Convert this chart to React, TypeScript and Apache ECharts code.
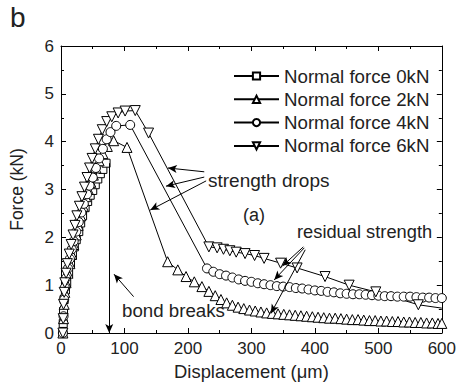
import React, { useEffect, useRef } from "react";
import * as echarts from "echarts";

const seriesNames = ["Normal force 0kN", "Normal force 2kN", "Normal force 4kN", "Normal force 6kN"];

const force0kN: any[] = [
  [3, 0], [3.5, 0.2], [4, 0.45], [5, 0.7], [7, 0.9], [9, 1.05], [12, 1.25], [15, 1.45], [18, 1.62],
  [21, 1.8], [24, 1.95], [28, 2.12], [31, 2.3], [34, 2.45], [38, 2.62], [42, 2.75], [46, 2.88],
  [50, 2.98], [54, 3.1], [58, 3.22], [62, 3.33], [66, 3.42], [71, 3.55],
  { value: [76, 3.55], symbol: "none" },
];

const force2kN: number[][] = [
  [3, 0], [4, 0.3], [5, 0.6], [6, 0.85], [8, 1.05], [11, 1.25], [14, 1.45], [17, 1.65], [20, 1.85],
  [24, 2.05], [27, 2.25], [31, 2.45], [35, 2.65], [39, 2.85], [43, 3.0], [47, 3.15], [51, 3.3],
  [55, 3.45], [60, 3.6], [66, 3.75], [73, 3.9], [83, 4.02], [104, 3.88],
  [168, 1.49], [184, 1.32], [197, 1.18], [210, 1.07], [222, 0.97], [233, 0.87], [243, 0.78],
  [252, 0.7], [261, 0.63], [270, 0.58], [279, 0.54], [288, 0.51], [297, 0.48], [306, 0.46],
  [315, 0.44], [324, 0.42], [333, 0.41], [342, 0.4], [351, 0.39], [360, 0.38], [369, 0.37],
  [378, 0.36], [387, 0.35], [396, 0.34], [405, 0.33], [414, 0.32], [423, 0.31], [432, 0.31],
  [441, 0.3], [450, 0.29], [459, 0.28], [468, 0.28], [477, 0.27], [486, 0.26], [495, 0.26],
  [504, 0.25], [513, 0.25], [522, 0.24], [531, 0.24], [540, 0.23], [549, 0.23], [558, 0.22],
  [567, 0.22], [576, 0.21], [585, 0.21], [594, 0.2], [600, 0.2],
];

const force4kN: number[][] = [
  [3, 0], [4, 0.35], [5, 0.7], [6, 0.95], [8, 1.15], [11, 1.35], [14, 1.55], [17, 1.75], [20, 1.92],
  [24, 2.12], [28, 2.32], [32, 2.52], [36, 2.7], [41, 2.9], [45, 3.08], [50, 3.25], [55, 3.45],
  [60, 3.65], [66, 3.85], [72, 4.05], [78, 4.2], [87, 4.33], [109, 4.35],
  [230, 1.35], [240, 1.28], [250, 1.23], [260, 1.2], [270, 1.16], [280, 1.12], [290, 1.09],
  [300, 1.07], [310, 1.04], [320, 1.02], [330, 1.0], [340, 0.98], [350, 0.97], [360, 0.96],
  [370, 0.94], [380, 0.93], [390, 0.91], [400, 0.89], [410, 0.88], [420, 0.86], [430, 0.85],
  [440, 0.83], [450, 0.82], [460, 0.81], [470, 0.81], [480, 0.8], [490, 0.79], [500, 0.78],
  [510, 0.77], [520, 0.77], [530, 0.76], [540, 0.76], [550, 0.76], [560, 0.75], [570, 0.74],
  [580, 0.74], [590, 0.73], [600, 0.73],
];

const force6kN: any[] = [
  [3, 0], [3.5, 0.3], [4, 0.6], [5, 0.85], [6, 1.05], [8, 1.25], [10, 1.45], [13, 1.65], [16, 1.85],
  [19, 2.05], [22, 2.25], [25, 2.45], [29, 2.65], [33, 2.85], [37, 3.05], [41, 3.25], [45, 3.45],
  [49, 3.65], [54, 3.85], [59, 4.05], [65, 4.25], [72, 4.42], [80, 4.52], [90, 4.6], [101, 4.64],
  [117, 4.65], [138, 4.18],
  [233, 1.8], [246, 1.78], [256, 1.75], [266, 1.72], [276, 1.69], [290, 1.66], [305, 1.62],
  [320, 1.56], [346, 1.46], [372, 1.36], [416, 1.18], [454, 1.0], [496, 0.86], [563, 0.59],
  { value: [600, 0.52], symbol: "none" },
];

// annotation arrows: [from, to] in data units
const strengthArrows: number[][][] = [
  [[225.7, 3.37], [168.5, 3.45]],
  [[225.7, 3.26], [165.4, 3.07]],
  [[228.7, 3.18], [140.6, 2.57]],
];
const residualArrows: number[][][] = [
  [[381.8, 1.8], [348.8, 1.4]],
  [[383.3, 1.78], [335.9, 1.11]],
  [[384.8, 1.74], [330.8, 0.41]],
];
const bondArrows: number[][][] = [
  [[114.4, 0.76], [83.5, 1.23]],
  [[76, 3.55], [76, 0]],
];

const xTicks = { min: 0, max: 600, interval: 100 };
const yTicks = { min: 0, max: 6, interval: 1 };

const FONT = "Liberation Sans, Arial, sans-serif";

export default function App() {
  const ref = useRef<HTMLDivElement>(null);
  useEffect(() => {
    if (!ref.current) return;
    const chart = echarts.init(ref.current, undefined, { renderer: "svg" });

    const axisCommon = (show: boolean) => ({
      type: "value",
      axisLine: { show: true, onZero: false, lineStyle: { color: "#000", width: 1 } },
      axisTick: { show: true, inside: true, length: 5, lineStyle: { color: "#000" } },
      minorTick: { show: true, splitNumber: 2, length: 3, lineStyle: { color: "#000" } },
      splitLine: { show: false },
      axisLabel: { show, color: "#222", fontSize: 17, fontFamily: FONT, margin: 7 },
    });

    const symbols = [
      { symbol: "rect", symbolSize: 8 },
      { symbol: "triangle", symbolSize: 10 },
      { symbol: "circle", symbolSize: 9 },
      { symbol: "path://M0,0L2,0L1,1.73Z", symbolSize: 10 },
    ];
    const datas = [force0kN, force2kN, force4kN, force6kN];

    const arrowLines = [...strengthArrows, ...residualArrows, ...bondArrows].map((a) => [
      { coord: a[0] },
      { coord: a[1] },
    ]);

    const series: any[] = datas.map((d, i) => ({
      name: seriesNames[i],
      type: "line",
      data: d,
      symbol: symbols[i].symbol,
      symbolSize: symbols[i].symbolSize,
      showAllSymbol: true,
      xAxisIndex: 0,
      yAxisIndex: 0,
      lineStyle: { color: "#000", width: 1 },
      itemStyle: { color: "#fff", borderColor: "#000", borderWidth: 1 },
      emphasis: { disabled: true },
      z: 2,
    }));
    series.push({
      name: "annotations",
      type: "line",
      data: [],
      xAxisIndex: 0,
      yAxisIndex: 0,
      markLine: {
        silent: true,
        symbol: ["none", "arrow"],
        symbolSize: [6, 9],
        label: { show: false },
        lineStyle: { color: "#000", width: 1, type: "solid" },
        emphasis: { disabled: true },
        data: arrowLines,
      },
      z: 3,
    });

    const textStyle = { fill: "#222", fontSize: 19, fontFamily: FONT, verticalAlign: "middle" };

    chart.setOption({
      animation: false,
      grid: { left: 61, right: 10, top: 46, bottom: 54 },
      xAxis: [
        {
          ...axisCommon(true),
          ...xTicks,
          name: "Displacement (\u03bcm)",
          nameLocation: "middle",
          nameGap: 29,
          nameTextStyle: { color: "#222", fontSize: 18.4, fontFamily: FONT },
        },
        { ...axisCommon(false), ...xTicks, position: "top" },
      ],
      yAxis: [
        {
          ...axisCommon(true),
          ...yTicks,
          name: "Force (kN)",
          nameLocation: "middle",
          nameGap: 35,
          nameTextStyle: { color: "#222", fontSize: 17.5, fontFamily: FONT },
        },
        { ...axisCommon(false), ...yTicks, position: "right" },
      ],
      legend: {
        data: seriesNames,
        orient: "vertical",
        left: 228,
        top: 61.5,
        itemWidth: 45,
        itemHeight: 9,
        itemGap: 4.3,
        textStyle: { color: "#222", fontSize: 18.7, fontFamily: FONT, lineHeight: 19 },
      },
      graphic: [
        { type: "text", left: 10, top: 3, style: { text: "b", fill: "#222", fontSize: 28, fontFamily: FONT } },
        { type: "text", x: 208, y: 180, style: { ...textStyle, text: "strength drops" } },
        { type: "text", x: 243, y: 215, style: { ...textStyle, fontSize: 18, text: "(a)" } },
        { type: "text", x: 297, y: 231, style: { ...textStyle, fontSize: 18.3, text: "residual strength" } },
        { type: "text", x: 122, y: 310, style: { ...textStyle, fontSize: 18.7, text: "bond breaks" } },
      ],
      series,
    });
    return () => chart.dispose();
  }, []);
  return <div ref={ref} style={{ width: 459, height: 387, position: "absolute", left: 0, top: 0 }} />;
}
